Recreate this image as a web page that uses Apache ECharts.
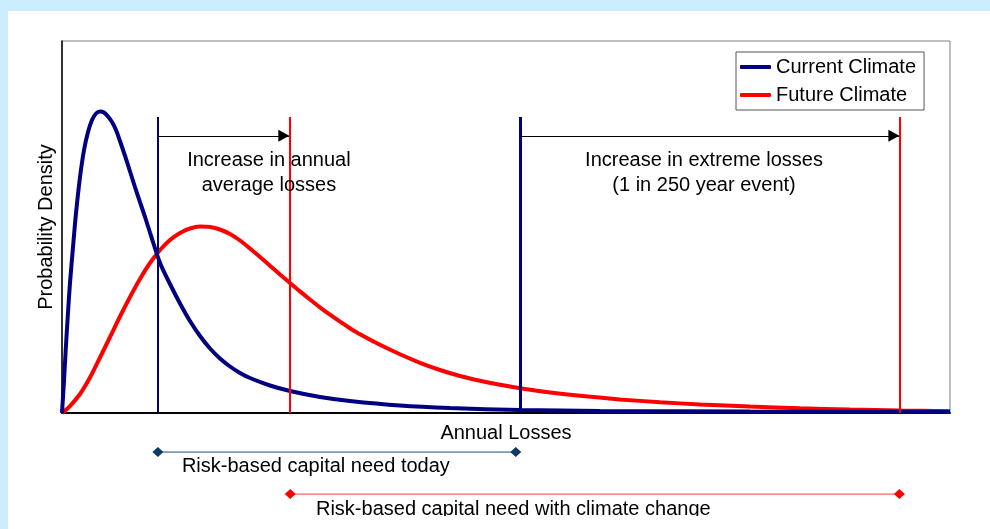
<!DOCTYPE html>
<html>
<head>
<meta charset="utf-8">
<script src="https://cdn.jsdelivr.net/npm/echarts@6/dist/echarts.min.js"></script>
<style>
html,body{margin:0;padding:0;background:#CCECFF;overflow:hidden;}
#panel{position:absolute;left:8px;top:11px;width:982px;height:518px;background:#ffffff;}
#chart{position:absolute;left:0;top:0;width:990px;height:529px;}
</style>
</head>
<body>
<div id="panel"></div>
<div id="chart"></div>
<script>
// ---- data ----
const seriesNames = ['Current Climate', 'Future Climate'];
const axisNames = ['Annual Losses', 'Probability Density'];
const currentClimate = [
  [0,0],[0.23,8.87],[0.45,18.28],[0.68,27.15],[0.9,34.95],[1.24,44.62],[1.58,53.76],[2.03,63.44],
  [2.48,70.7],[2.93,75.54],[3.38,78.76],[3.83,80.51],[4.28,81.05],[4.73,80.78],[5.18,79.7],
  [5.63,78.23],[6.08,76.08],[6.53,73.12],[7.1,69.09],[7.66,64.92],[8.22,60.75],[8.78,56.72],
  [9.35,52.69],[9.91,48.52],[11.04,40.32],[12.16,34.68],[13.29,29.44],[14.41,24.73],[15.54,20.7],
  [16.67,17.34],[17.79,14.65],[18.92,12.5],[20.05,10.75],[21.17,9.41],[23.42,7.39],[25.68,5.91],
  [29.05,4.3],[32.43,3.23],[38.06,2.02],[43.69,1.34],[51.58,0.81],[60.59,0.54],[77.48,0.4],[100,0.32]
];
const futureClimate = [
  [0,0],[0.9,1.88],[2.03,5.11],[3.15,9.54],[4.28,14.92],[5.41,20.43],[6.53,25.94],[7.66,31.18],
  [8.78,36.02],[9.91,40.32],[11.04,43.82],[12.16,46.51],[13.29,48.39],[14.41,49.6],[15.54,50.13],
  [16.67,50.0],[17.79,49.33],[18.92,48.12],[20.05,46.37],[21.17,44.22],[22.3,41.94],[23.42,39.6],
  [24.55,37.26],[25.68,34.95],[26.8,32.69],[27.93,30.51],[29.05,28.41],[30.18,26.42],[31.31,24.54],
  [32.43,22.8],[33.56,21.18],[35.81,18.33],[38.06,15.78],[40.32,13.49],[42.57,11.56],[44.82,9.95],
  [47.07,8.66],[49.32,7.58],[51.58,6.67],[54.95,5.54],[58.33,4.62],[62.84,3.66],[67.34,2.9],
  [71.85,2.31],[77.48,1.72],[83.11,1.29],[88.74,0.94],[94.37,0.67],[100,0.46]
];
const averageLoss = [10.8, 25.6];      // current, future
const extremeLoss = [51.6, 94.3];      // current, future (1 in 250)
const markerTop = 79.6;
const arrowLevel = 74.5;
const capitalToday = [[10.8, -10.5], [51.1, -10.5]];
const capitalFuture = [[25.7, -21.8], [94.3, -21.8]];
const annotationText = [
  'Increase in annual\naverage losses',
  'Increase in extreme losses\n(1 in 250 year event)',
  'Risk-based capital need today',
  'Risk-based capital need with climate change'
];
const annotationX = [23.3, 72.3, 13.5, 28.6];
const annotationY = [64.65, 64.65, -14.3, -26.0];
const annotationAlign = ['center', 'center', 'left', 'left'];

// ---- chart ----
const FONT = '"Liberation Sans", Arial, sans-serif';
const BLUE = '#000080', RED = '#FF0000';
const chart = echarts.init(document.getElementById('chart'), null, {renderer: 'canvas'});

function vline(x, color, width) {
  return [
    {coord: [x, 0], lineStyle: {color: color, width: width, type: 'solid'}},
    {coord: [x, markerTop]}
  ];
}
function arrow(x1, x2) {
  return [
    {coord: [x1, arrowLevel], symbol: 'none', lineStyle: {color: '#000', width: 1, type: 'solid'}},
    {coord: [x2, arrowLevel], symbol: 'triangle', symbolSize: [12, 11], symbolOffset: [0, 5.5]}
  ];
}

const option = {
  backgroundColor: 'transparent',
  animation: false,
  textStyle: {fontFamily: FONT},
  grid: {left: 62, top: 41, right: 40, bottom: 116, show: true, borderColor: '#808080', borderWidth: 1, backgroundColor: 'transparent'},
  legend: {
    data: seriesNames,
    orient: 'vertical',
    left: 736, top: 52,
    padding: [5, 8, 5, 4],
    icon: 'roundRect',
    itemWidth: 31, itemHeight: 4, itemGap: 8,
    borderColor: '#555', borderWidth: 1,
    backgroundColor: '#fff',
    textStyle: {fontSize: 20, color: '#000', fontFamily: FONT, lineHeight: 20},
    selectedMode: false
  },
  xAxis: {
    type: 'value', min: 0, max: 100,
    name: axisNames[0], nameLocation: 'middle', nameGap: 10,
    nameTextStyle: {fontSize: 20, color: '#000', fontFamily: FONT},
    axisLine: {show: true, onZero: false, lineStyle: {color: '#000', width: 2}},
    axisTick: {show: false}, axisLabel: {show: false}, splitLine: {show: false}
  },
  yAxis: {
    type: 'value', min: 0, max: 100,
    name: axisNames[1], nameLocation: 'middle', nameGap: 6,
    nameTextStyle: {fontSize: 20, color: '#000', fontFamily: FONT},
    axisLine: {show: true, onZero: false, lineStyle: {color: '#000', width: 1.5}},
    axisTick: {show: false}, axisLabel: {show: false}, splitLine: {show: false}
  },
  series: [
    {
      name: seriesNames[0], type: 'line', data: currentClimate, smooth: 0.3,
      symbol: 'none', color: BLUE, lineStyle: {color: BLUE, width: 4}, z: 4,
      markLine: {
        silent: true, symbol: 'none', label: {show: false}, emphasis: {disabled: true}, animation: false,
        data: [vline(averageLoss[0], BLUE, 2), vline(extremeLoss[0], BLUE, 3),
               arrow(averageLoss[0], averageLoss[1]), arrow(extremeLoss[0], extremeLoss[1])]
      }
    },
    {
      name: seriesNames[1], type: 'line', data: futureClimate, smooth: 0.3,
      symbol: 'none', color: RED, lineStyle: {color: RED, width: 4}, z: 3,
      markLine: {
        silent: true, symbol: 'none', label: {show: false}, emphasis: {disabled: true}, animation: false,
        data: [vline(averageLoss[1], RED, 2), vline(extremeLoss[1], RED, 2)]
      }
    },
    {
      name: 'capitalToday', type: 'line', data: capitalToday, clip: false,
      symbol: 'diamond', symbolSize: [11, 10], color: '#0D3B66',
      itemStyle: {color: '#0D3B66'}, lineStyle: {color: '#1F4E79', width: 1}, silent: true
    },
    {
      name: 'capitalFuture', type: 'line', data: capitalFuture, clip: false,
      symbol: 'diamond', symbolSize: [11, 10], color: RED,
      itemStyle: {color: RED}, lineStyle: {color: '#FF4040', width: 1}, silent: true
    },
    {
      name: 'annotations', type: 'custom', clip: false, silent: true, z: 5,
      data: annotationText.map((t, i) => [annotationX[i], annotationY[i], i]),
      renderItem: function (params, api) {
        const p = api.coord([api.value(0), api.value(1)]);
        const i = api.value(2);
        return {
          type: 'text', x: p[0], y: p[1],
          style: {
            text: annotationText[i], fill: '#000',
            font: '20px ' + FONT, lineHeight: 25,
            align: annotationAlign[i], verticalAlign: 'middle'
          }
        };
      }
    }
  ],
  graphic: [
    {type: 'rect', left: 8, top: 516, shape: {width: 982, height: 13}, style: {fill: '#ffffff'}, z: 100, silent: true}
  ]
};
chart.setOption(option);
</script>
</body>
</html>
